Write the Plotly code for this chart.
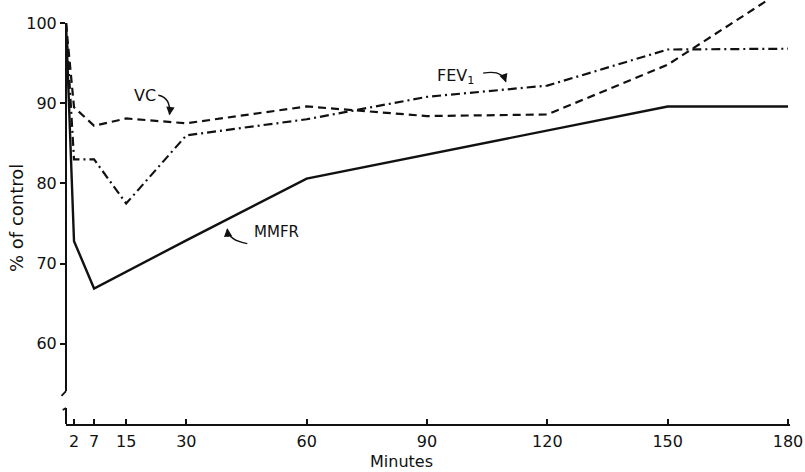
import plotly.graph_objects as go

# ---- data ----
minutes = [0, 2, 7, 15, 30, 60, 90, 120, 150, 180]
vc = [100, 89.5, 87.2, 88.1, 87.5, 89.6, 88.4, 88.6, 94.8, 104.5]
fev1 = [100, 83.0, 83.0, 77.5, 86.0, 88.0, 90.8, 92.2, 96.7, 96.8]
mmfr = [100, 72.8, 66.9, 69.0, 72.9, 80.6, 83.6, 86.6, 89.6, 89.6]

x_ticks = [2, 7, 15, 30, 60, 90, 120, 150, 180]
y_ticks = [60, 70, 80, 90, 100]

FONT = "DejaVu Sans"
BLACK = "#111111"

fig = go.Figure()
fig.add_trace(go.Scatter(x=minutes, y=vc, mode="lines", name="VC",
                         line=dict(color=BLACK, width=2.2, dash="8px,5px")))
fig.add_trace(go.Scatter(x=minutes, y=fev1, mode="lines", name="FEV1",
                         line=dict(color=BLACK, width=2.2, dash="9px,4px,2px,4px")))
fig.add_trace(go.Scatter(x=minutes, y=mmfr, mode="lines", name="MMFR",
                         line=dict(color=BLACK, width=2.4)))

shapes = []
# y axis line (with break near the bottom)
shapes.append(dict(type="line", xref="paper", yref="y", x0=0, x1=0, y0=54.1, y1=100,
                   line=dict(color=BLACK, width=2)))
shapes.append(dict(type="line", xref="paper", yref="y", x0=0, x1=0, y0=50, y1=52.0,
                   line=dict(color=BLACK, width=2)))
# break hooks
shapes.append(dict(type="path", xref="paper", yref="y",
                   path="M 0 54.1 L -0.0062 53.5",
                   line=dict(color=BLACK, width=1.8)))
shapes.append(dict(type="path", xref="paper", yref="y",
                   path="M 0 52.0 L -0.0045 51.75",
                   line=dict(color=BLACK, width=1.8)))
# curved label arrows
shapes.append(dict(type="path", xref="x", yref="y",
                   path="M 23.0 91.0 Q 26.2 90.7 25.8 88.6",
                   line=dict(color=BLACK, width=1.4)))
shapes.append(dict(type="path", xref="x", yref="y",
                   path="M 104.0 93.75 Q 108.7 94.2 109.7 92.7",
                   line=dict(color=BLACK, width=1.4)))
shapes.append(dict(type="path", xref="x", yref="y",
                   path="M 45.2 72.5 Q 40.5 72.9 40.2 74.3",
                   line=dict(color=BLACK, width=1.4)))

annotations = [
    dict(x=19.7, y=91.0, xref="x", yref="y", text="VC", showarrow=False,
         xanchor="center", yanchor="middle",
         font=dict(family=FONT, size=16, color=BLACK)),
    dict(x=97.0, y=93.3, xref="x", yref="y", text="FEV<sub>1</sub>", showarrow=False,
         xanchor="center", yanchor="middle",
         font=dict(family=FONT, size=16, color=BLACK)),
    dict(x=52.6, y=73.9, xref="x", yref="y", text="MMFR", showarrow=False,
         xanchor="center", yanchor="middle",
         font=dict(family=FONT, size=15, color=BLACK)),
    # arrowheads
    dict(x=25.8, y=88.5, xref="x", yref="y", text="", showarrow=True, arrowhead=2,
         arrowsize=1.2, arrowwidth=1.4, arrowcolor=BLACK, ax=1, ay=-9),
    dict(x=109.7, y=92.6, xref="x", yref="y", text="", showarrow=True, arrowhead=2,
         arrowsize=1.2, arrowwidth=1.4, arrowcolor=BLACK, ax=-3, ay=-9),
    dict(x=40.2, y=74.4, xref="x", yref="y", text="", showarrow=True, arrowhead=2,
         arrowsize=1.2, arrowwidth=1.4, arrowcolor=BLACK, ax=1, ay=10),
    # axis titles
    dict(x=(401 - 66) / 724, y=(424 - 462) / 424, xref="paper", yref="paper",
         xanchor="center", yanchor="middle",
         text="Minutes", showarrow=False, font=dict(family=FONT, size=16, color=BLACK)),
    dict(x=(17 - 66) / 724, y=(424 - 218) / 424, xref="paper", yref="paper",
         xanchor="center", yanchor="middle",
         text="% of control", textangle=-90, showarrow=False,
         font=dict(family=FONT, size=18, color=BLACK)),
]

fig.update_layout(
    width=805, height=472,
    margin=dict(l=66, r=15, t=0, b=48),
    plot_bgcolor="white", paper_bgcolor="white",
    showlegend=False,
    shapes=shapes,
    annotations=annotations,
    font=dict(family=FONT, size=16, color=BLACK),
)
fig.update_xaxes(range=[0, 180.5], tickvals=x_ticks, ticktext=[str(v) for v in x_ticks],
                 ticks="inside", ticklen=5, tickwidth=1.5, tickcolor=BLACK,
                 showline=True, linecolor=BLACK, linewidth=2, showgrid=False,
                 zeroline=False, ticklabelstandoff=2,
                 tickfont=dict(family=FONT, size=16, color=BLACK))
fig.update_yaxes(range=[50, 102.875], tickvals=y_ticks, ticktext=[str(v) for v in y_ticks],
                 ticks="outside", ticklen=5, tickwidth=1.5, tickcolor=BLACK,
                 showline=False, showgrid=False, zeroline=False,
                 tickfont=dict(family=FONT, size=16, color=BLACK))

fig.write_html("out.html", config={"displayModeBar": False},
               post_script="document.body.style.margin='0px';document.body.style.padding='0px';")
